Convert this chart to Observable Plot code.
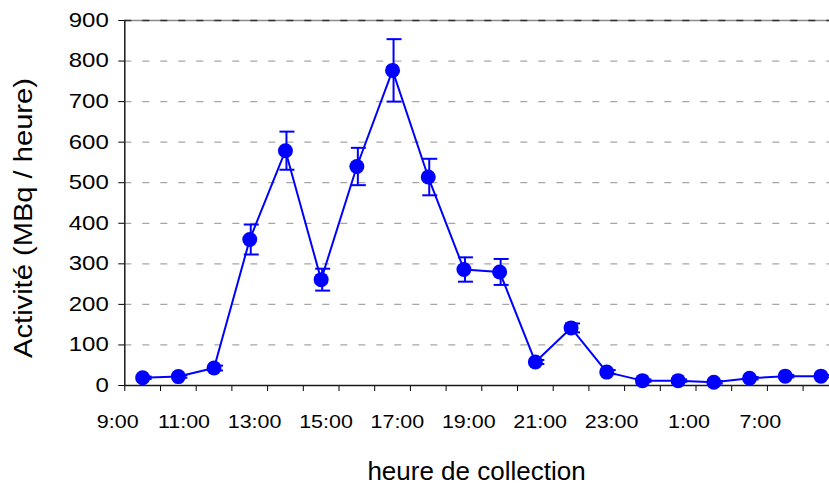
<!DOCTYPE html>
<html>
<head>
<meta charset="utf-8">
<script src="https://cdn.jsdelivr.net/npm/d3@7"></script>
<script src="https://cdn.jsdelivr.net/npm/@observablehq/plot@0.6"></script>
<style>
html, body { margin: 0; padding: 0; overflow: hidden; background: white; }
#chart { width: 829px; height: 486px; overflow: hidden; }
</style>
</head>
<body>
<div id="chart"></div>
<script>
const categories = ["9:00","10:00","11:00","12:00","13:00","14:00","15:00","16:00","17:00","18:00","19:00","20:00","21:00","22:00","23:00","0:00","1:00","4:00","7:00","8:00"];
const values = [19, 22, 43, 360, 579, 261, 540, 777, 514, 286, 280, 58, 142, 33, 12, 12, 8, 18, 23, 23];
const errors = [3, 3, 6, 37, 47, 27, 46, 77, 45, 30, 32, 5, 11, 5, 3, 3, 3, 3, 3, 3];
const yTicks = [0, 100, 200, 300, 400, 500, 600, 700, 800, 900];
const gridValues = [100, 200, 300, 400, 500, 600, 700, 800];
const xTitle = "heure de collection";
const yTitle = "Activité (MBq / heure)";

const blue = "#0000FF";
const rows = categories.map((c, i) => ({i, c, v: values[i], e: errors[i]}));
const labelRows = rows.filter(d => d.i % 2 === 0);
const pos = d => d.i + 0.5;

const capSymbol = {
  draw(ctx, size) {
    const w = Math.sqrt(size / Math.PI);
    ctx.moveTo(-w, 0);
    ctx.lineTo(w, 0);
  }
};

const chart = Plot.plot({
  width: 839,
  height: 486,
  marginLeft: 124.3,
  marginRight: 0.7,
  marginTop: 20,
  marginBottom: 101,
  style: {fontFamily: "'Liberation Sans', Arial, sans-serif", fontSize: "20px", background: "white", maxWidth: "none", overflow: "hidden", color: "#000"},
  x: {domain: [0, categories.length], ticks: d3.range(0, categories.length + 1), tickFormat: () => "", tickSize: 6, label: null},
  y: {domain: [0, 900], ticks: yTicks, tickFormat: () => "", tickSize: 6, label: null},
  marks: [
    Plot.ruleY(gridValues, {stroke: "#a6a6a6", strokeWidth: 1.3, strokeDasharray: "7,11"}),
    Plot.ruleY([900], {stroke: "#8a8a8a", strokeWidth: 1.5}),
    Plot.ruleY([900], {stroke: "#333", strokeWidth: 1.5, strokeDasharray: "7,11"}),
    Plot.ruleY([0], {stroke: "#1a1a1a", strokeWidth: 1.5}),
    Plot.ruleX([0], {stroke: "#1a1a1a", strokeWidth: 1.5}),
    Plot.line(rows, {x: pos, y: "v", stroke: blue, strokeWidth: 2}),
    Plot.ruleX(rows, {x: pos, y1: d => d.v - d.e, y2: d => d.v + d.e, stroke: blue, strokeWidth: 2, dx: 1}),
    Plot.dot(rows, {x: pos, y: d => d.v + d.e, symbol: capSymbol, r: 7.5, fill: "none", stroke: blue, strokeWidth: 2, dx: 1.5}),
    Plot.dot(rows, {x: pos, y: d => d.v - d.e, symbol: capSymbol, r: 7.5, fill: "none", stroke: blue, strokeWidth: 2, dx: 1.5}),
    Plot.dot(rows, {x: pos, y: "v", r: 7.5, fill: blue, stroke: "none"}),
    Plot.text(yTicks, {y: d => d, text: d => String(d), frameAnchor: "left", textAnchor: "end", lineAnchor: "middle", dx: -16, fontSize: 20, fill: "#000"}),
    Plot.text(labelRows, {x: pos, text: "c", frameAnchor: "bottom", textAnchor: "end", lineAnchor: "top", dx: -4, dy: 29, fontSize: 19, fill: "#000"}),
    Plot.text([xTitle], {text: d => d, frameAnchor: "bottom", textAnchor: "middle", lineAnchor: "middle", dx: -5.3, dy: 86, fontSize: 26, fill: "#000"}),
    Plot.text([yTitle], {text: d => d, frameAnchor: "left", textAnchor: "middle", lineAnchor: "middle", rotate: -90, dx: -101.5, dy: 15, fontSize: 26, fill: "#000"})
  ]
});

// horizontal stretch of texts, as in the reference rendering
chart.querySelectorAll("text").forEach(el => {
  const s = el.textContent;
  let k = 1;
  if (/^\d+$/.test(s)) k = 1.2;
  else if (/^\d+:\d\d$/.test(s)) k = 1.13;
  else if (s === yTitle) k = 1.12;
  if (k !== 1) {
    const t = el.getAttribute("transform") || "";
    el.setAttribute("transform", (t + ` scale(${k},1)`).trim());
  }
});
document.getElementById("chart").appendChild(chart);
</script>
</body>
</html>
